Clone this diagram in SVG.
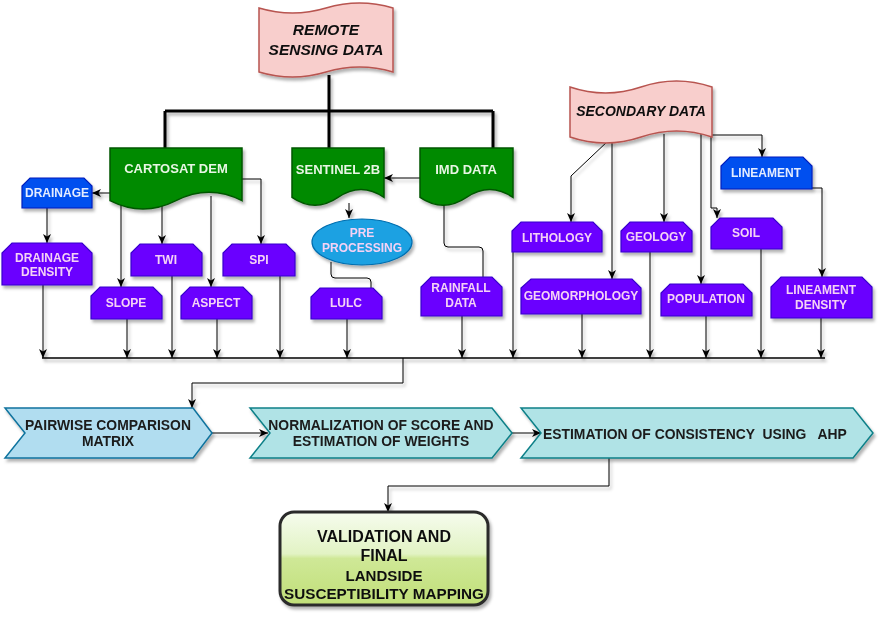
<svg xmlns="http://www.w3.org/2000/svg" width="881" height="620" viewBox="0 0 881 620">
<style>
text{font-family:"Liberation Sans",Arial,sans-serif;font-weight:bold;text-anchor:middle}
.it{font-style:italic;font-size:15.5px;fill:#111}
.doc{fill:#008a00;stroke:#005700;stroke-width:1.5}
.doct{fill:#e8f6e4;font-size:13px}
.vio{fill:#6a00ff;stroke:#3700cc;stroke-width:1.2}
.viot{fill:#f5d2f5;font-size:12px}
.blu{fill:#0050ef;stroke:#001dbc;stroke-width:1.2}
.blut{fill:#e4ecff;font-size:12px}
.pink{fill:#f8cecc;stroke:#b85450;stroke-width:1.5}
.chev1{fill:#b1ddf0;stroke:#10739e;stroke-width:1.5}
.chev2{fill:#b0e3e6;stroke:#0e8088;stroke-width:1.5}
.cht{fill:#1a1a1a;font-size:13.9px}
.c{fill:none;stroke:#000;stroke-width:1}
.ca{fill:none;stroke:#000;stroke-width:1;marker-end:url(#ah)}
.bus{fill:none;stroke:#000;stroke-width:1.5}
.thick{fill:none;stroke:#000;stroke-width:3}
.sh{filter:url(#shd)}
</style>
<defs>
<filter id="shd" x="-10%" y="-10%" width="130%" height="140%">
<feDropShadow dx="2" dy="3" stdDeviation="1.5" flood-color="#000" flood-opacity="0.3"/>
</filter>
<marker id="ah" markerUnits="userSpaceOnUse" markerWidth="10" markerHeight="9" refX="9" refY="4" orient="auto">
<path d="M0,0 L9,4 L0,8 L2.5,4 Z" fill="#000"/>
</marker>
<linearGradient id="gv" x1="0" y1="0" x2="0" y2="1">
<stop offset="0" stop-color="#f6fcee"/>
<stop offset="0.45" stop-color="#e2f3c4"/>
<stop offset="0.5" stop-color="#cfe897"/>
<stop offset="1" stop-color="#c0df78"/>
</linearGradient>
</defs>

<g id="connectors" class="sh">
<path class="thick" d="M329,75 V111 M165,111 H493 M165,111 V149 M329,111 V149 M493,111 V149"/>
<path class="ca" d="M110,193 H92"/>
<path class="ca" d="M47,208 V243"/>
<path class="ca" d="M121,205 V287"/>
<path class="ca" d="M162,205 V244"/>
<path class="ca" d="M211,196 V287"/>
<path class="ca" d="M242,179 H261 V244"/>
<path class="ca" d="M349,203 V218"/>
<path class="ca" d="M420,178 H384"/>
<path class="c" d="M331,262 V274 Q331,278 335,278 H367 Q371,278 371,282 V288"/>
<path class="c" d="M444,205 V243 Q444,247 448,247 H479 Q483,247 483,251 V277"/>
<path class="ca" d="M609,140 L571,176 V222"/>
<path class="ca" d="M612,140 V279"/>
<path class="ca" d="M664,134 V222"/>
<path class="ca" d="M701,134 V284"/>
<path class="ca" d="M711,136 V208 H717 V218"/>
<path class="ca" d="M712,135 H762 V157"/>
<path class="ca" d="M812,188 H822 V277"/>
<path class="bus" d="M42,358 H825"/>
<path class="ca" d="M43,285 V358"/>
<path class="ca" d="M127,319 V358"/>
<path class="ca" d="M172,276 V358"/>
<path class="ca" d="M217,319 V358"/>
<path class="ca" d="M280,276 V358"/>
<path class="ca" d="M347,319 V358"/>
<path class="ca" d="M462,316 V358"/>
<path class="ca" d="M513,252 V358"/>
<path class="ca" d="M582,314 V358"/>
<path class="ca" d="M650,252 V358"/>
<path class="ca" d="M706,316 V358"/>
<path class="ca" d="M761,249 V358"/>
<path class="ca" d="M821,318 V358"/>
<path class="ca" d="M403,358 V383 H192 V408"/>
<path class="ca" d="M212,433 H268"/>
<path class="ca" d="M512,433 H541"/>
<path class="ca" d="M609,458 V486 H388 V512"/>
</g>

<g id="remote-sensing" class="sh">
<path class="pink" d="M259,8 Q292.5,18 326,8 Q359.5,-2 393,8 L393,72 Q359.5,62 326,72 Q292.5,82 259,72 Z"/>
<text class="it" x="326" y="35">REMOTE</text>
<text class="it" x="326" y="55">SENSING DATA</text>
</g>

<g id="secondary-data" class="sh">
<path class="pink" d="M570,87 Q605.5,99 641,87 Q676.5,75 712,87 L712,137 Q676.5,125 641,137 Q605.5,149 570,137 Z"/>
<text class="it" style="font-size:14px" x="641" y="116">SECONDARY DATA</text>
</g>

<g id="cartosat" class="sh">
<path class="doc" d="M110,148 H242 V200.7 Q209,184 176,200.7 Q143,217.4 110,200.7 Z"/>
<text class="doct" x="176" y="173">CARTOSAT DEM</text>
</g>
<g id="sentinel" class="sh">
<path class="doc" d="M292,148 H384 V197.3 Q361,181.5 338,197.3 Q315,213 292,197.3 Z"/>
<text class="doct" x="338" y="174">SENTINEL 2B</text>
</g>
<g id="imd" class="sh">
<path class="doc" d="M420,148 H513 V197.3 Q489.75,181.5 466.5,197.3 Q443.25,213 420,197.3 Z"/>
<text class="doct" x="466" y="174">IMD DATA</text>
</g>

<g id="drainage" class="sh">
<path class="blu" d="M30,178 H84 L92,186 V208 H22 V186 Z"/>
<text class="blut" x="57" y="197">DRAINAGE</text>
</g>
<g id="drainage-density" class="sh">
<path class="vio" d="M12,243 H82 L92,253 V285 H2 V253 Z"/>
<text class="viot" x="47" y="262">DRAINAGE</text>
<text class="viot" x="47" y="276">DENSITY</text>
</g>
<g id="slope" class="sh">
<path class="vio" d="M100,287 H153 L162,296 V319 H91 V296 Z"/>
<text class="viot" x="126" y="307">SLOPE</text>
</g>
<g id="twi" class="sh">
<path class="vio" d="M140,244 H193 L202,253 V276 H131 V253 Z"/>
<text class="viot" x="166" y="264">TWI</text>
</g>
<g id="aspect" class="sh">
<path class="vio" d="M190,287 H243 L252,296 V319 H181 V296 Z"/>
<text class="viot" x="216" y="307">ASPECT</text>
</g>
<g id="spi" class="sh">
<path class="vio" d="M232,244 H286 L295,253 V276 H223 V253 Z"/>
<text class="viot" x="259" y="264">SPI</text>
</g>
<g id="pre-processing" class="sh">
<ellipse cx="362" cy="242" rx="50" ry="23" fill="#1ba1e2" stroke="#006eaf" stroke-width="1.2"/>
<text class="viot" x="362" y="237">PRE</text>
<text class="viot" x="362" y="252">PROCESSING</text>
</g>
<g id="lulc" class="sh">
<path class="vio" d="M320,288 H373 L382,297 V319 H311 V297 Z"/>
<text class="viot" x="346" y="307">LULC</text>
</g>
<g id="rainfall" class="sh">
<path class="vio" d="M431,277 H492 L502,287 V316 H421 V287 Z"/>
<text class="viot" x="461" y="292">RAINFALL</text>
<text class="viot" x="461" y="307">DATA</text>
</g>
<g id="lithology" class="sh">
<path class="vio" d="M521,222 H593 L602,231 V252 H512 V231 Z"/>
<text class="viot" x="557" y="242">LITHOLOGY</text>
</g>
<g id="geomorphology" class="sh">
<path class="vio" d="M531,279 H632 L641,288 V314 H521 V288 Z"/>
<text class="viot" x="581" y="300">GEOMORPHOLOGY</text>
</g>
<g id="geology" class="sh">
<path class="vio" d="M630,222 H683 L692,231 V252 H621 V231 Z"/>
<text class="viot" x="656" y="241">GEOLOGY</text>
</g>
<g id="population" class="sh">
<path class="vio" d="M670,284 H743 L752,293 V316 H661 V293 Z"/>
<text class="viot" x="706" y="303">POPULATION</text>
</g>
<g id="soil" class="sh">
<path class="vio" d="M720,218 H773 L782,227 V249 H711 V227 Z"/>
<text class="viot" x="746" y="237">SOIL</text>
</g>
<g id="lineament" class="sh">
<path class="blu" d="M730,157 H803 L812,166 V189 H721 V166 Z"/>
<text class="blut" x="766" y="177">LINEAMENT</text>
</g>
<g id="lineament-density" class="sh">
<path class="vio" d="M781,277 H862 L872,287 V318 H771 V287 Z"/>
<text class="viot" x="821" y="294">LINEAMENT</text>
<text class="viot" x="821" y="309">DENSITY</text>
</g>

<g id="pairwise" class="sh">
<path class="chev1" d="M5,408 H193 L212,433 L193,458 H5 L25,433 Z"/>
<text class="cht" x="108" y="430">PAIRWISE COMPARISON</text>
<text class="cht" x="108" y="446">MATRIX</text>
</g>
<g id="normalization" class="sh">
<path class="chev2" d="M250,408 H492 L512,433 L492,458 H250 L270,433 Z"/>
<text class="cht" x="381" y="430">NORMALIZATION OF SCORE AND</text>
<text class="cht" x="381" y="446">ESTIMATION OF WEIGHTS</text>
</g>
<g id="consistency" class="sh">
<path class="chev2" d="M521,408 H853 L873,433 L853,458 H521 L541,433 Z"/>
<text class="cht" x="543" y="439" style="text-anchor:start;white-space:pre">ESTIMATION OF CONSISTENCY  USING   AHP</text>
</g>

<g id="validation" class="sh">
<rect x="280" y="512" width="208" height="93" rx="14" fill="url(#gv)" stroke="#2b2b2b" stroke-width="3"/>
<text x="384" y="542" style="font-size:16px;fill:#111">VALIDATION AND</text>
<text x="384" y="561" style="font-size:16px;fill:#111">FINAL</text>
<text x="384" y="581" style="font-size:14.5px;fill:#111" textLength="77" lengthAdjust="spacingAndGlyphs">LANDSIDE</text>
<text x="384" y="599" style="font-size:14.5px;fill:#111" textLength="200" lengthAdjust="spacingAndGlyphs">SUSCEPTIBILITY MAPPING</text>
</g>
</svg>
